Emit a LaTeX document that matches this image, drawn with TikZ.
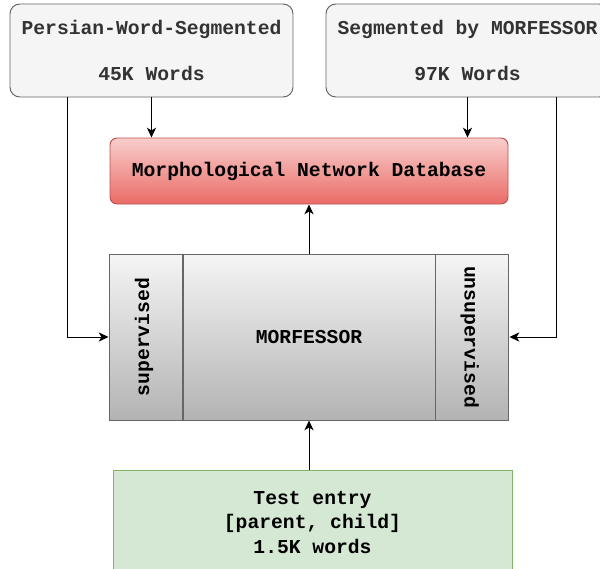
\documentclass[tikz,border=0pt]{standalone}
\usepackage{xcolor}
\usepackage{fontspec}
\setmonofont{Liberation Mono}
\usepackage{tikz}
\usetikzlibrary{arrows.meta,positioning,calc}

\definecolor{srcfill}{HTML}{F5F5F5}
\definecolor{srcline}{HTML}{666666}
\definecolor{srctext}{HTML}{333333}
\definecolor{dbtop}{HTML}{F8CECC}
\definecolor{dbbot}{HTML}{EA6B66}
\definecolor{dbline}{HTML}{B85450}
\definecolor{mbot}{HTML}{B3B3B3}
\definecolor{testfill}{HTML}{D5E8D4}
\definecolor{testline}{HTML}{82B366}

\begin{document}
\begin{tikzpicture}[
  font=\ttfamily\bfseries\fontsize{14}{16.4}\selectfont, >={Stealth[length=7pt,width=6.5pt,inset=2pt]},
  box/.style={draw=srcline, line width=0.7pt, align=center, inner sep=0pt},
  src/.style={box, fill=srcfill, text=srctext, rounded corners=7pt, minimum width=7.075cm, minimum height=2.325cm},
  part/.style={box, top color=srcfill, bottom color=mbot, minimum height=4.15cm},
  flow/.style={->, line width=0.7pt, draw=black},
]
\clip (0,0) rectangle (15,-14.225);
\node[src] (pws) at (3.7875,-1.2625) {Persian-Word-Segmented\\~\\45K Words};
\node[src] (mrf) at (11.6875,-1.2625) {Segmented by MORFESSOR\\~\\97K Words};
\node[box, draw=dbline, top color=dbtop, bottom color=dbbot, rounded corners=5pt, minimum width=9.95cm, minimum height=1.65cm] (db) at (7.725,-4.275) {Morphological Network Database};
\node[part, minimum width=6.3cm] (mid) at (7.725,-8.425) {MORFESSOR};
\node[part, minimum width=1.825cm, anchor=east] (sup) at (mid.west) {};
\node[part, minimum width=1.825cm, anchor=west] (unsup) at (mid.east) {};
\node[rotate=90] at ([xshift=-1pt]sup) {supervised};
\node[rotate=-90] at ([xshift=-2pt]unsup) {unsupervised};
\node[box, draw=testline, fill=testfill, minimum width=9.975cm, minimum height=2.625cm, font=\ttfamily\bfseries\fontsize{14}{17.1}\selectfont] (test) at (7.8125,-13.0625) {Test entry\\{}[parent, child]\\1.5K words};
\draw[flow] (pws.south) -- (pws.south |- db.north);
\draw[flow] (mrf.south) -- (mrf.south |- db.north);
\draw[flow] ([xshift=-2.1125cm]pws.south) |- (sup.west);
\draw[flow] ([xshift=2.2125cm]mrf.south) |- (unsup.east);
\draw[flow] (mid.north) -- (db.south);
\draw[flow] (mid.south |- test.north) -- (mid.south);
\end{tikzpicture}
\end{document}
